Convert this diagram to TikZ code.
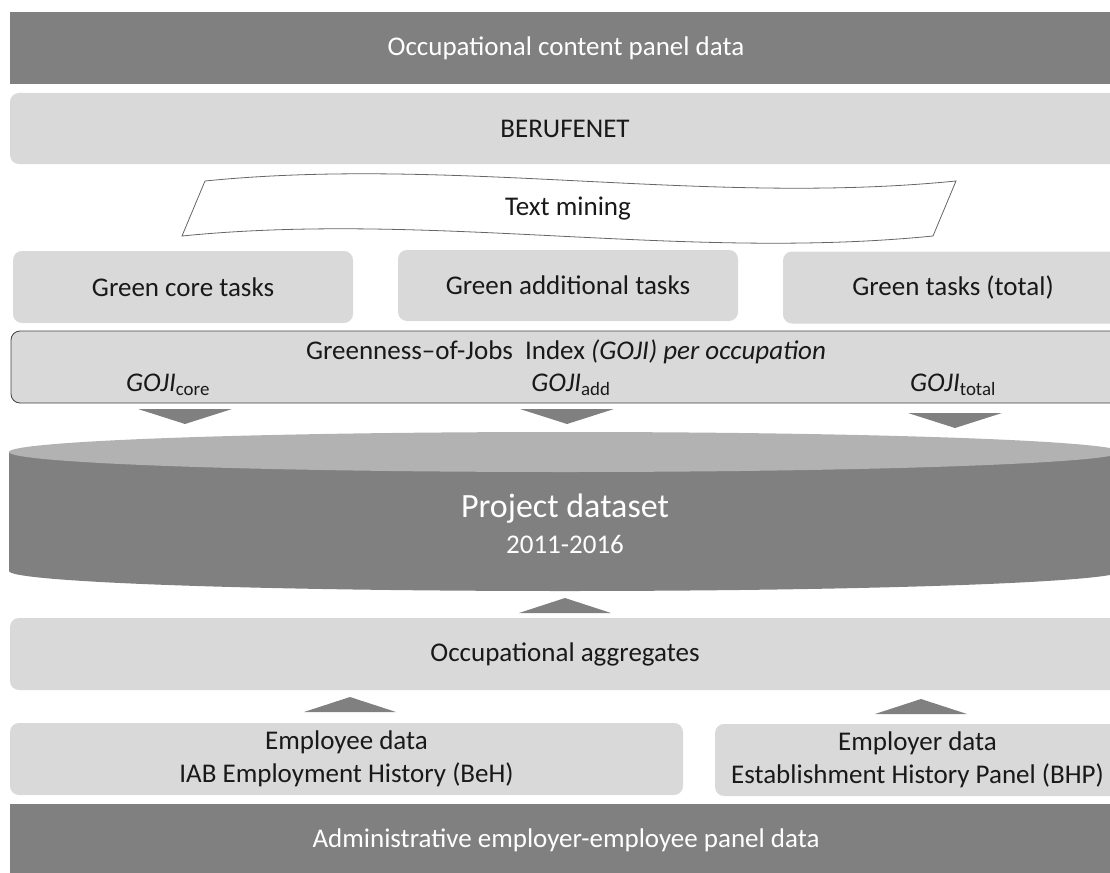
\documentclass[tikz,border=0pt]{standalone}
\usepackage{fontspec}
\setmainfont{Carlito}
\begin{document}
\begin{tikzpicture}[x=1pt,y=-1pt,
	txt/.style={font=\fontsize{27}{33}\selectfont},
	darkbar/.style={txt,fill=black!50,text=white,minimum width=1112pt,minimum height=72pt,inner sep=0pt},
	lightbox/.style={txt,fill=black!15,text=black!90,rounded corners=9pt,inner sep=0pt,minimum height=72pt},
	tri/.style={fill=black!50}]
	\useasboundingbox (0,0) rectangle (1110,872);
	\clip (0,0) rectangle (1110,872);
	\node[darkbar] (content) at (566,48) {Occupational content panel data};
	\node[lightbox,minimum width=1110pt,minimum height=71pt] (berufenet) at (565,128.5) {BERUFENET};
	\draw[black!60,fill=white,line width=0.8pt] (205,181) .. controls (455,156) and (705,206) .. (956,181) -- (933,236) .. controls (682,261) and (432,211) .. (182,236) -- cycle;
	\node[txt,text=black!90] (textmining) at (568,209) {Text mining};
	\node[lightbox,minimum width=340pt] (core) at (183,287) {Green core tasks};
	\node[lightbox,minimum width=340pt,minimum height=71pt] (additional) at (568,285.5) {Green additional tasks};
	\node[lightbox,minimum width=340pt] (total) at (953,287.5) {Green tasks (total)};
	\node[lightbox,draw=black!75,line width=0.8pt,minimum width=1110pt] (goji) at (566,367) {};
	\node[txt,text=black!90] (gojititle) at (566,352) {Greenness--of-Jobs\ \ Index \textit{(GOJI) per occupation}};
	\node[txt,text=black!90] (gojicore) at (168,385) {\textit{GOJI}\textsubscript{core}};
	\node[txt,text=black!90] (gojiadd) at (571,385) {\textit{GOJI}\textsubscript{add}};
	\node[txt,text=black!90] (gojitotal) at (953,385) {\textit{GOJI}\textsubscript{total}};
	\foreach \x/\y in {185/409,567/409,955/413}
		\fill[tri] (\x-47,\y) -- (\x+47,\y) -- (\x,\y+15) -- cycle;
	\fill[black!50] (9,452) -- (9,571) arc[start angle=180,end angle=0,x radius=556,y radius=20] -- (1121,452) -- cycle;
	\fill[black!30] (565,452) ellipse[x radius=556,y radius=20];
	\node[text=white,font=\fontsize{34}{40}\selectfont] (project) at (565,509) {Project dataset};
	\node[text=white,txt] (years) at (565,544) {2011-2016};
	\foreach \x/\y in {565/613,350/712,921/714}
		\fill[tri] (\x-46,\y) -- (\x+46,\y) -- (\x,\y-15) -- cycle;
	\node[lightbox,minimum width=1110pt] (aggregates) at (565,654) {Occupational aggregates};
	\node[lightbox,minimum width=673pt,align=center] (employee) at (346.5,759) {Employee data\\IAB Employment History (BeH)};
	\node[lightbox,minimum width=405pt,align=center] (employer) at (917.5,760) {Employer data\\Establishment History Panel (BHP)};
	\node[darkbar] (admin) at (566,840) {Administrative employer-employee panel data};
\end{tikzpicture}
\end{document}
